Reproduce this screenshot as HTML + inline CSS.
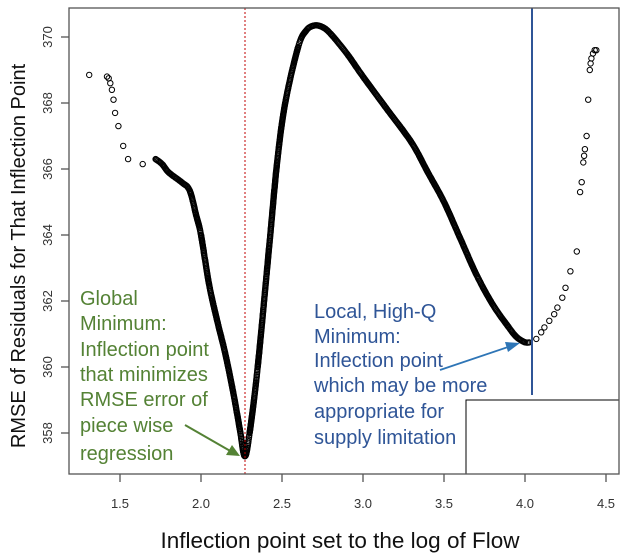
<!DOCTYPE html>
<html><head><style>
html,body{margin:0;padding:0;background:#fff;}
svg{display:block;}
</style></head><body>
<svg id="s" width="628" height="558" xmlns="http://www.w3.org/2000/svg" font-family="Liberation Sans, sans-serif">
<rect x="0" y="0" width="628" height="558" fill="#fff"/>
<g id="pts" fill="none" stroke="#000" stroke-width="1"></g>
<line x1="245" y1="8" x2="245" y2="474" stroke="#c00000" stroke-width="1" stroke-dasharray="2,2"/>
<line x1="532" y1="8" x2="532" y2="395" stroke="#2f5597" stroke-width="2"/>
<rect x="466" y="400" width="153" height="74" fill="#fff" stroke="#000" stroke-width="1"/>
<rect x="69" y="8" width="550" height="466" fill="none" stroke="#555" stroke-width="1.3"/>
<g stroke="#555" stroke-width="1.3">
<line x1="120" y1="474" x2="120" y2="482"/><line x1="201" y1="474" x2="201" y2="482"/>
<line x1="282" y1="474" x2="282" y2="482"/><line x1="363" y1="474" x2="363" y2="482"/>
<line x1="444" y1="474" x2="444" y2="482"/><line x1="525" y1="474" x2="525" y2="482"/>
<line x1="606" y1="474" x2="606" y2="482"/>
<line x1="61" y1="37" x2="69" y2="37"/><line x1="61" y1="103" x2="69" y2="103"/>
<line x1="61" y1="169" x2="69" y2="169"/><line x1="61" y1="235" x2="69" y2="235"/>
<line x1="61" y1="301" x2="69" y2="301"/><line x1="61" y1="367" x2="69" y2="367"/>
<line x1="61" y1="433" x2="69" y2="433"/>
</g>
<g font-size="13" fill="#333" text-anchor="middle">
<text x="120" y="508">1.5</text><text x="201" y="508">2.0</text><text x="282" y="508">2.5</text>
<text x="363" y="508">3.0</text><text x="444" y="508">3.5</text><text x="525" y="508">4.0</text>
<text x="606" y="508">4.5</text>
<text transform="translate(52,37) rotate(-90)">370</text>
<text transform="translate(52,103) rotate(-90)">368</text>
<text transform="translate(52,169) rotate(-90)">366</text>
<text transform="translate(52,235) rotate(-90)">364</text>
<text transform="translate(52,301) rotate(-90)">362</text>
<text transform="translate(52,367) rotate(-90)">360</text>
<text transform="translate(52,433) rotate(-90)">358</text>
</g>
<text x="340" y="548" font-size="22.5" text-anchor="middle" fill="#111">Inflection point set to the log of Flow</text>
<text transform="translate(25,256) rotate(-90)" font-size="20" text-anchor="middle" fill="#111">RMSE of Residuals for That Inflection Point</text>
<g font-size="20" fill="#548235">
<text x="80" y="305">Global</text><text x="80" y="330">Minimum:</text>
<text x="80" y="356">Inflection point</text><text x="80" y="381">that minimizes</text>
<text x="80" y="406">RMSE error of</text><text x="80" y="432">piece wise</text>
<text x="80" y="460">regression</text>
</g>
<g font-size="20" fill="#2f5597">
<text x="314" y="318">Local, High-Q</text><text x="314" y="343">Minimum:</text>
<text x="314" y="367">Inflection point</text><text x="314" y="392">which may be more</text>
<text x="314" y="418">appropriate for</text><text x="314" y="444">supply limitation</text>
</g>
<line x1="185" y1="425" x2="232" y2="452" stroke="#548235" stroke-width="2"/>
<polygon points="240,456 226,455 232,445" fill="#548235"/>
<line x1="440" y1="370" x2="511" y2="346" stroke="#2e75b6" stroke-width="1.8"/>
<polygon points="520,343 508,352 505,342" fill="#2e75b6"/>
</svg>
<script>
(function(){
var g=document.getElementById('pts');var ns='http://www.w3.org/2000/svg';
function px(x){return 120+(x-1.5)*162;}function py(y){return 37+(370-y)*33;}
function cp(X,Y){var e=document.createElementNS(ns,'circle');e.setAttribute('cx',X.toFixed(1));e.setAttribute('cy',Y.toFixed(1));e.setAttribute('r','2.7');g.appendChild(e);}
function c(x,y){cp(px(x),py(y));}
var sp=[[1.31,368.85],[1.42,368.8],[1.43,368.75],[1.44,368.6],[1.45,368.4],[1.46,368.1],[1.47,367.7],[1.49,367.3],[1.52,366.7],[1.55,366.3],[1.64,366.15],
[4.07,360.85],[4.1,361.05],[4.12,361.2],[4.15,361.4],[4.18,361.6],[4.2,361.8],[4.23,362.1],[4.25,362.4],[4.28,362.9],[4.32,363.5],[4.34,365.3],[4.35,365.6],[4.36,366.2],[4.365,366.4],[4.37,366.6],[4.38,367.0],[4.39,368.1],[4.4,369.0],[4.405,369.2],[4.41,369.35],[4.42,369.5],[4.43,369.6],[4.44,369.6]];
sp.forEach(function(p){c(p[0],p[1]);});
var k=[[1.72,366.3],[1.76,366.15],[1.8,365.9],[1.88,365.6],[1.93,365.35],[1.97,364.6],[2.0,364.0],[2.05,362.5],[2.1,361.4],[2.15,360.4],[2.2,359.2],[2.24,358.1],[2.27,357.3],[2.3,358.0],[2.35,360.0],[2.42,363.6],[2.47,366.2],[2.52,368.0],[2.6,369.7],[2.65,370.2],[2.7,370.35],[2.75,370.3],[2.8,370.1],[2.9,369.5],[3.0,368.8],[3.15,367.8],[3.3,366.8],[3.4,365.9],[3.5,365.0],[3.6,363.9],[3.7,362.8],[3.8,361.9],[3.9,361.2],[3.95,360.9],[4.0,360.75],[4.03,360.75]];
var P=k.map(function(p){return [px(p[0]),py(p[1])];});
for(var i=0;i<P.length-1;i++){var p0=P[Math.max(0,i-1)],p1=P[i],p2=P[i+1],p3=P[Math.min(P.length-1,i+2)];
var d=Math.hypot(p2[0]-p1[0],p2[1]-p1[1]);var n=Math.max(1,Math.round(d/1.2));
for(var j=0;j<n;j++){var t=j/n,t2=t*t,t3=t2*t;
var X=0.5*((2*p1[0])+(-p0[0]+p2[0])*t+(2*p0[0]-5*p1[0]+4*p2[0]-p3[0])*t2+(-p0[0]+3*p1[0]-3*p2[0]+p3[0])*t3);
var Y=0.5*((2*p1[1])+(-p0[1]+p2[1])*t+(2*p0[1]-5*p1[1]+4*p2[1]-p3[1])*t2+(-p0[1]+3*p1[1]-3*p2[1]+p3[1])*t3);
cp(X,Y);}}
})();
</script>
</body></html>
